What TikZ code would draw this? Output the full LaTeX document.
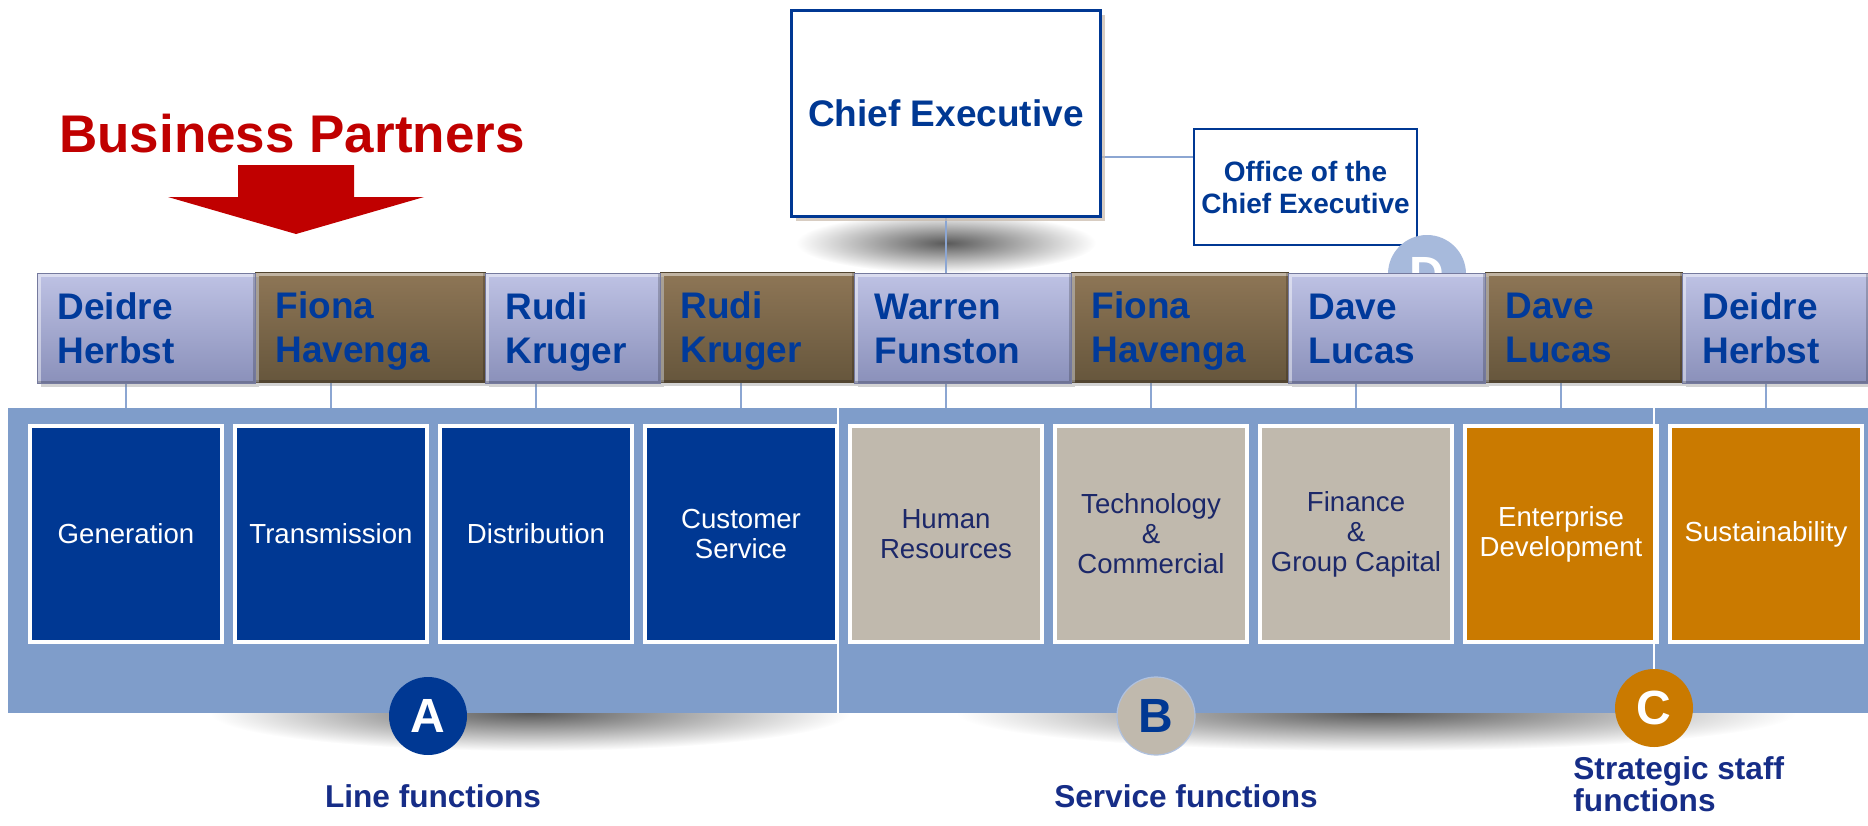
\documentclass[tikz,border=0pt]{standalone}
\usepackage{fontspec}
\setmainfont{Liberation Sans}
\usetikzlibrary{shadows}

\definecolor{navyblue}{RGB}{0,56,147}
\definecolor{namecol}{RGB}{0,58,155}
\definecolor{lavtop}{RGB}{190,194,228}
\definecolor{lavbot}{RGB}{138,144,186}
\definecolor{browntop}{RGB}{142,118,86}
\definecolor{brownbot}{RGB}{102,86,60}
\definecolor{bandblue}{RGB}{127,157,202}
\definecolor{greybox}{RGB}{192,185,173}
\definecolor{orangebox}{RGB}{202,122,0}
\definecolor{darktext}{RGB}{28,40,105}
\definecolor{linkblue}{RGB}{140,166,210}
\definecolor{dcircle}{RGB}{167,186,220}
\definecolor{bpred}{RGB}{192,0,0}
\definecolor{labelcol}{RGB}{22,45,135}

\pgfdeclarelayer{back}
\pgfsetlayers{back,main}
\pgfdeclareradialshading{blob}{\pgfpoint{0bp}{0bp}}{color(0bp)=(black!65); color(25bp)=(white); color(50bp)=(white)}
\newcommand{\nstrut}{\rule[-4pt]{0pt}{21pt}}

\tikzset{
    person/.style={anchor=north west, minimum height=55pt, inner xsep=10pt, align=left,
        text=namecol, font=\bfseries\fontsize{18.5pt}{22pt}\selectfont,
        execute at begin node={\nstrut}, execute at end node={\nstrut},
        drop shadow={shadow xshift=1.5pt, shadow yshift=-1.5pt, opacity=0.35},
        path picture={
            \draw[white, opacity=0.45, line width=3pt] (path picture bounding box.south west)
                -- (path picture bounding box.north west) -- (path picture bounding box.north east);
            \draw[black, opacity=0.2, line width=3pt] (path picture bounding box.south west)
                -- (path picture bounding box.south east) -- (path picture bounding box.north east);
        }},
    lavbox/.style={person, top color=lavtop, bottom color=lavbot, draw=lavbot!85!black, line width=0.5pt},
    brownbox/.style={person, top color=browntop, bottom color=brownbot, draw=brownbot!80!black, line width=0.5pt},
    funcbox/.style={draw=white, line width=2pt, minimum width=96pt, minimum height=108pt,
        inner xsep=2pt, align=center, font=\fontsize{13.8pt}{15pt}\selectfont},
    link/.style={draw=linkblue, line width=1.3pt},
    badge/.style={circle, minimum size=39pt, inner sep=0pt, font=\bfseries\fontsize{24pt}{24pt}\selectfont},
    grouplabel/.style={text=labelcol, font=\bfseries\fontsize{15.8pt}{16pt}\selectfont}
}

\begin{document}
\begin{tikzpicture}[x=0.5pt, y=-0.5pt]
        \useasboundingbox (0,0) rectangle (1868,825);
        %% Soft shadows
        \begin{pgfonlayer}{back}
            \shade[shading=blob] (946,243) ellipse (150 and 30);
            \shade[shading=blob] (530,713) ellipse (320 and 38);
            \shade[shading=blob] (1376,713) ellipse (420 and 38);
        \end{pgfonlayer}
        %% Business partners
        \node[anchor=base, text=bpred, font=\bfseries\fontsize{26.5pt}{30pt}\selectfont] (bp) at (292,152) {Business Partners};
        \fill[bpred] (238,165) -- (354,165) -- (354,197) -- (424,197) -- (296,234) -- (168,197) -- (238,197) -- cycle;
        %% Chief executive and office
        \node[draw=navyblue, line width=1.5pt, fill=white, minimum width=154.5pt, minimum height=103pt,
            text=navyblue, font=\bfseries\fontsize{18.5pt}{22pt}\selectfont,
            drop shadow={shadow xshift=2pt, shadow yshift=-2pt, fill=black!40!brown!40, opacity=0.7}] (ce) at (946,113.5) {Chief Executive};
        \node[draw=navyblue, line width=1pt, fill=white, minimum width=111.5pt, minimum height=58pt, inner xsep=2pt,
            align=center, text=navyblue, font=\bfseries\fontsize{14pt}{16pt}\selectfont] (office) at (1305.5,187) {Office of the\\Chief Executive};
        \node[badge, fill=dcircle, text=white] (dd) at (1427,274) {D};
        %% Business partners bar
        \foreach \nm/\xa/\xb/\txt in {p2/255/485/{Fiona\\Havenga}, p4/660/854/{Rudi\\Kruger},
                p6/1071/1288/{Fiona\\Havenga}, p8/1485/1682/{Dave\\Lucas}}{
            \pgfmathsetmacro{\tw}{(\xb-\xa)*0.5-20}
            \node[brownbox, text width=\tw pt] (\nm) at (\xa,272) {\txt};
        }
        \foreach \nm/\xa/\xb/\txt in {p1/37/255/{Deidre\\Herbst}, p3/485/660/{Rudi\\Kruger},
                p5/854/1071/{Warren\\Funston}, p7/1288/1485/{Dave\\Lucas}, p9/1682/1868/{Deidre\\Herbst}}{
            \pgfmathsetmacro{\tw}{(\xb-\xa)*0.5-20}
            \node[lavbox, text width=\tw pt] (\nm) at (\xa,273) {\txt};
        }
        %% Functions band
        \fill[bandblue] (8,408) rectangle (1868,713);
        \coordinate (bandtop) at (0,408);
        \draw[white, line width=0.8pt] (838,408) -- (838,713);
        \foreach \i/\fc/\tc/\txt in {1/navyblue/white/Generation, 2/navyblue/white/Transmission,
                3/navyblue/white/Distribution, 4/navyblue/white/{Customer\\Service},
                5/greybox/darktext/{Human\\Resources}, 6/greybox/darktext/{Technology\\\&\\Commercial},
                7/greybox/darktext/{Finance\\\&\\Group Capital}, 8/orangebox/white/{Enterprise\\Development},
                9/orangebox/white/Sustainability}
            \node[funcbox, fill=\fc, text=\tc] (f\i) at ({126+205*(\i-1)},534) {\txt};
        %% Groups
        \node[badge, fill=navyblue, text=white] (ca) at (428,716) {A};
        \node[badge, fill=greybox, draw=linkblue!70, line width=0.6pt, text=navyblue] (cb) at (1156,716) {B};
        \node[badge, fill=orangebox, text=white] (cc) at (1654,708) {C};
        \draw[white, line width=0.8pt] (cc.north) -- (cc.north |- bandtop);
        \node[grouplabel, anchor=base] (la) at (433,807) {Line functions};
        \node[grouplabel, anchor=base] (lb) at (1186,807) {Service functions};
        \node[grouplabel, anchor=north west, align=left, inner sep=0pt] (lc) at (1573,756) {Strategic staff\\functions};
        %% Connectors
        \begin{pgfonlayer}{back}
            \draw[link] (ce.south) -- (ce.south |- p5.north);
            \draw[link] (office.west) ++(0,-30) coordinate (oc) -- (oc -| ce.east);
            \foreach \i in {1,...,9}
                \draw[link] (p\i.south -| f\i.north) -- (f\i.north);
        \end{pgfonlayer}
    \end{tikzpicture}
\end{document}
